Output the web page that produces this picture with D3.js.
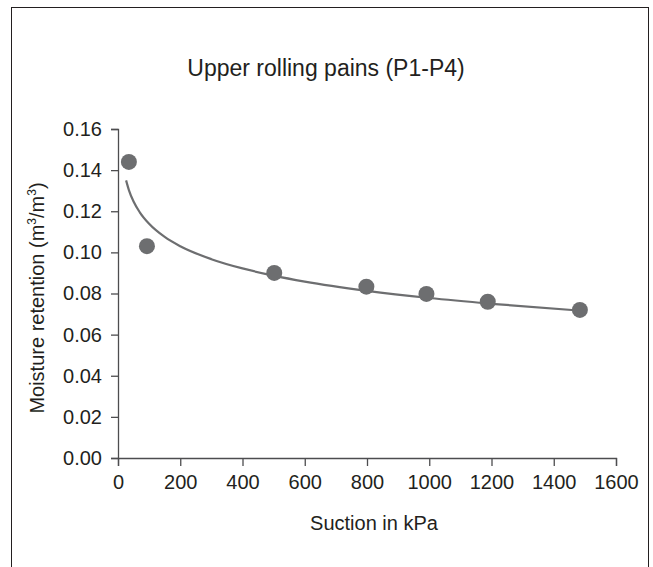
<!DOCTYPE html>
<html>
<head>
<meta charset="utf-8">
<script src="https://cdn.jsdelivr.net/npm/d3@7"></script>
<style>
  html, body { margin: 0; padding: 0; background: #fff; }
  svg { display: block; }
  text { font-family: "Liberation Sans", Arial, sans-serif; fill: #231f20; }
</style>
</head>
<body>
<svg id="chart" width="653" height="567"></svg>
<script>
// Observed data points (suction kPa, moisture retention m3/m3)
const suction = [35, 93, 502, 798, 991, 1188, 1484];
const moisture = [0.144, 0.103, 0.090, 0.0833, 0.0798, 0.076, 0.072];

// Fitted trend curve
const trendSuction = [26, 35, 50, 70, 100, 150, 200, 300, 400, 500, 600, 800, 1000, 1200, 1500];
const trendMoisture = [0.135, 0.1303, 0.1247, 0.1195, 0.1139, 0.1075, 0.1030, 0.0967, 0.0922, 0.0887, 0.0858, 0.0813, 0.0778, 0.0750, 0.0715];

const xTicks = [0, 200, 400, 600, 800, 1000, 1200, 1400, 1600];
const yTicks = [0, 0.02, 0.04, 0.06, 0.08, 0.10, 0.12, 0.14, 0.16];

const title = "Upper rolling pains (P1-P4)";
const xTitle = "Suction in kPa";

const svg = d3.select("#chart");
const font = "Liberation Sans, Arial, sans-serif";

// outer frame
svg.append("rect")
  .attr("x", 11.5).attr("y", 7.5)
  .attr("width", 637).attr("height", 575)
  .attr("fill", "none").attr("stroke", "#231f20").attr("stroke-width", 1);

const x = d3.scaleLinear().domain([0, 1600]).range([118, 616]);
const y = d3.scaleLinear().domain([0, 0.16]).range([458, 129]);

const axisColor = "#4d4d4f";

// X axis
const gx = svg.append("g").attr("transform", `translate(0,${y(0)})`)
  .call(d3.axisBottom(x).tickValues(xTicks).tickSize(8).tickPadding(9).tickFormat(d3.format("d")));
gx.select(".domain").attr("stroke", axisColor).attr("stroke-width", 1.3);
gx.selectAll(".tick line").attr("stroke", axisColor).attr("stroke-width", 1.3);
gx.selectAll(".tick text").attr("font-size", 20).attr("font-family", font).attr("fill", "#231f20");

// Y axis
const gy = svg.append("g").attr("transform", `translate(${x(0)},0)`)
  .call(d3.axisLeft(y).tickValues(yTicks).tickSize(7).tickPadding(9).tickFormat(d3.format(".2f")));
gy.select(".domain").attr("stroke", axisColor).attr("stroke-width", 1.3);
gy.selectAll(".tick line").attr("stroke", axisColor).attr("stroke-width", 1.3);
gy.selectAll(".tick text").attr("font-size", 20).attr("font-family", font).attr("fill", "#231f20");

// trend line
const trend = trendSuction.map((s, i) => [s, trendMoisture[i]]);
svg.append("path")
  .datum(trend)
  .attr("fill", "none")
  .attr("stroke", "#6d6e70")
  .attr("stroke-width", 2.2)
  .attr("d", d3.line().x(d => x(d[0])).y(d => y(d[1])).curve(d3.curveMonotoneX));

// points
svg.append("g").selectAll("circle")
  .data(suction.map((s, i) => [s, moisture[i]]))
  .join("circle")
  .attr("cx", d => x(d[0]))
  .attr("cy", d => y(d[1]))
  .attr("r", 8)
  .attr("fill", "#6d6e70");

// title
svg.append("text")
  .attr("x", 326).attr("y", 76)
  .attr("text-anchor", "middle")
  .attr("font-size", 23)
  .text(title);

// x title
svg.append("text")
  .attr("x", 374).attr("y", 530)
  .attr("text-anchor", "middle")
  .attr("font-size", 20)
  .text(xTitle);

// y title with superscripts
const yt = svg.append("text")
  .attr("transform", `translate(44,298) rotate(-90)`)
  .attr("text-anchor", "middle")
  .attr("font-size", 20);
yt.append("tspan").text("Moisture retention (m");
yt.append("tspan").attr("dy", -8).attr("font-size", 12).text("3");
yt.append("tspan").attr("dy", 8).text("/m");
yt.append("tspan").attr("dy", -8).attr("font-size", 12).text("3");
yt.append("tspan").attr("dy", 8).text(")");
</script>
</body>
</html>
